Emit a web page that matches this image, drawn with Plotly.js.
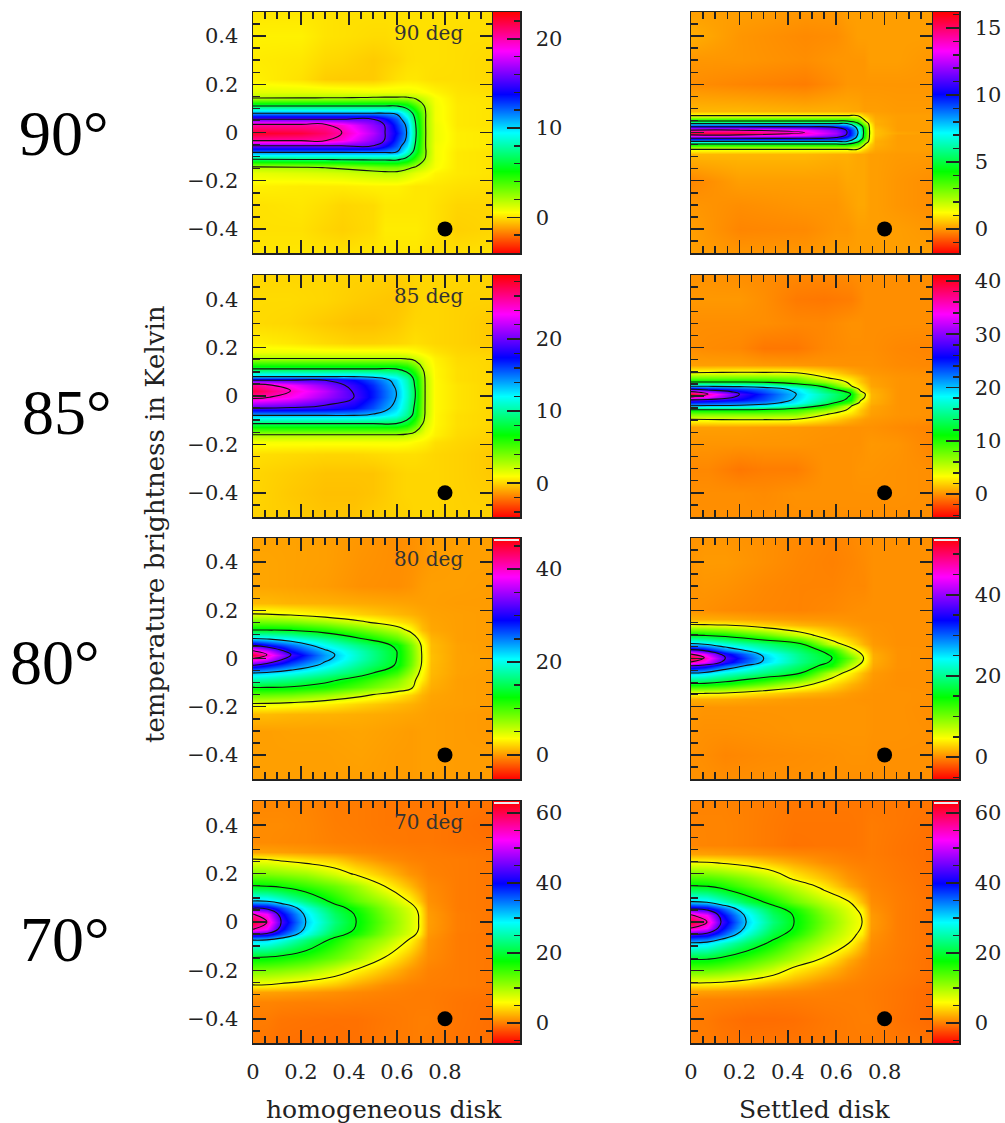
<!DOCTYPE html>
<html><head><meta charset="utf-8">
<script src="https://cdn.plot.ly/plotly-3.0.1.min.js"></script>
<style>html,body{margin:0;padding:0;background:#fff}</style></head>
<body><div id="chart" style="width:1005px;height:1123px"></div>
<script>
// ---------- values ----------
const hom90X=[0,.2,.3,.37,.5,.55,.6,.64,.68,.72,.76,.85,1];
const hom90Y=[.5,.4,.3,.22,.17,.145,.11,.08,.055,.033,0,-.033,-.055,-.08,-.11,-.145,-.17,-.22,-.3,-.4,-.5];
const hom90Z=[
[.15,.15,.1,.05,.05,.05,.05,.05,.05,.05,.05,.05,0],
[.35,.35,.1,.05,-.05,-.05,.05,.05,.05,.05,.05,0,0],
[.25,.15,-.1,-.15,-.35,-.25,-.15,0,.05,.05,.05,0,-.1],
[.35,.05,-.3,-.35,-.35,-.15,.05,.15,.15,.05,0,0,-.1],
[1.1,1.1,1.05,1,.9,.9,.9,.9,.8,.6,.4,.1,0],
[2,2.05,2.1,2.15,2.3,2.35,2.35,2.35,1.9,1.3,.7,.15,.1],
[6.7,6.7,6.7,6.7,6.7,6.7,6.7,5.8,4,1.9,.8,.2,.1],
[11.2,11.2,11.2,11.2,11.2,11.2,10.9,8.6,5.6,2.2,.8,.2,.1],
[15.7,15.7,15.7,15.7,15.7,14,12.3,10,6.2,2.2,.8,.2,.1],
[20.3,20.3,20.3,19.3,16.6,15.6,13,10.9,6.5,2.2,.9,.2,.1],
[22.4,22,21.2,20.16,17.3,15.7,13.6,11.2,6.72,2.24,.9,.3,.2],
[20.3,20.3,20.3,19.3,16.6,15.6,13,10.9,6.5,2.2,.9,.3,.2],
[15.7,15.7,15.7,15.7,15.7,14,12.3,10,6.2,2.2,.8,.3,.2],
[11.6,11.6,11.6,11.6,11.6,11.6,11.2,8.8,5.7,2.3,.8,.2,.1],
[6.9,7,7,7.1,7.2,7.2,7.2,6.2,4.2,2,.8,.2,.1],
[1.9,2.1,2.3,2.5,3,3.2,3.2,2.7,2,1.3,.7,.2,.1],
[1,1.2,1.3,1.4,1.7,1.8,1.8,1.4,1,.7,.4,.2,.1],
[.35,.25,.25,.25,.35,.35,.35,.25,.15,.15,.15,.05,0],
[.05,.15,0,-.15,-.05,.15,.15,.15,.15,.15,.05,-.15,-.15],
[.05,.05,-.15,-.25,-.05,.25,.25,.25,.25,.15,.05,-.25,-.15],
[.15,.15,.1,.05,.15,.15,.15,.15,.15,.05,0,0,.05]];

const set90X=[0,.2,.47,.6,.645,.69,.713,.738,.76,.85,1];
const set90Y=[.5,.4,.3,.2,.09,.07,.048,.037,.024,.01,0,-.01,-.024,-.037,-.048,-.07,-.09,-.2,-.3,-.4,-.5];
const set90Z=[
[.1,.1,0,0,.1,.1,.1,.1,.1,.1,.1],
[.3,0,-.15,-.1,0,.1,.1,.1,.1,.1,.1],
[0,0,-.1,0,0,0,0,.1,.1,.1,0],
[-.1,-.2,-.3,-.1,0,0,0,0,0,0,0],
[.4,.4,.3,.3,.25,.2,.1,.1,.1,.05,.05],
[1.55,1.55,1.55,1.55,1.55,1.5,.8,.4,.2,.1,.1],
[4.65,4.65,4.65,4.65,4.65,3.6,1.9,.7,.3,.1,.1],
[7.75,7.75,7.75,7.75,7.75,5,3,1.2,.3,.1,.1],
[10.85,10.85,10.85,10.6,9.4,7.2,4.2,1.4,.4,.1,.1],
[13.95,13.95,13.2,11.8,10.75,7.6,4.55,1.5,.5,.1,.1],
[15.5,15.4,13.95,12.2,10.85,7.75,4.65,1.55,.5,.2,.1],
[13.95,13.95,13.2,11.8,10.75,7.6,4.55,1.5,.5,.1,.1],
[10.85,10.85,10.85,10.6,9.4,7.2,4.2,1.4,.4,.1,.1],
[7.75,7.75,7.75,7.75,7.75,5,3,1.2,.3,.1,.1],
[4.65,4.65,4.65,4.65,4.65,3.6,1.9,.7,.3,.1,.1],
[1.55,1.55,1.55,1.55,1.55,1.5,.8,.4,.2,.1,.1],
[.4,.4,.4,.3,.3,.2,.2,.1,.1,.05,.05],
[-.2,.1,.1,.1,.2,.2,.2,.1,.1,0,-.1],
[0,-.1,0,0,.1,.2,.2,.1,.1,0,-.1],
[.1,-.2,-.15,0,0,.1,.1,.1,.1,.1,0],
[.1,0,0,.1,.1,.1,.1,.1,.1,.1,.1]];

const hom85X=[0,.156,.3,.42,.5,.596,.64,.676,.717,.76,.85,1];
const hom85Y=[.5,.4,.3,.22,.18,.155,.112,.08,.065,.045,.022,-.005,-.05,-.08,-.114,-.16,-.19,-.24,-.32,-.4,-.5];
const hom85Z=[
[.1,.1,.1,0,0,-.1,0,.1,.1,.1,.1,0],
[.2,.2,.1,-.1,-.2,-.3,-.2,0,.1,.1,0,0],
[.2,.1,-.2,-.4,-.4,-.2,0,.1,.1,.1,0,-.2],
[.7,.5,.2,0,0,.1,.2,.3,.2,.1,0,-.2],
[1.4,1.4,1.3,1.3,1.3,1.3,1.2,1,.7,.4,.1,0],
[2.75,2.75,2.75,2.75,2.75,2.75,2.6,2,1.3,.7,.2,.1],
[8.25,8.25,8.25,8.25,8.25,8.25,7.2,5.3,2,.85,.3,.1],
[13.75,13.75,13.75,13.75,13.3,11.8,9.8,7.4,2.6,.85,.3,.1],
[19.25,19.25,19.25,17.5,15.8,13,10.5,7.8,2.7,.9,.3,.1],
[26,23.5,20.8,18.5,16.6,13.4,10.8,8,2.75,.9,.4,.1],
[27.5,24.75,22,19,17,13.75,11,8.25,2.75,.9,.4,.1],
[25.5,23.8,21.3,19.25,17,13.75,11,8.25,2.75,.9,.4,.1],
[19.25,19,18.5,17.5,15.8,13,10.5,7.8,2.7,.9,.4,.1],
[13.75,13.75,13.75,13.75,13.3,11.8,9.8,7.4,2.6,.85,.3,.1],
[8.25,8.25,8.25,8.25,8.25,8.25,7.2,5.3,2,.85,.3,.1],
[2.75,2.75,2.75,2.75,2.75,2.75,2.5,1.9,1.2,.7,.2,0],
[1.2,1.2,1.2,1.2,1.2,1.2,1.1,.9,.7,.3,.1,-.1],
[.3,.2,.1,.1,.2,.3,.3,.3,.2,.1,0,-.2],
[.1,-.1,-.3,-.3,-.3,0,.1,.1,.1,.1,0,-.2],
[.1,-.2,-.4,-.4,-.3,0,.1,.1,.1,.1,0,-.1],
[0,-.1,-.3,-.3,-.1,0,0,.1,.1,.1,0,0]];

const set85X=[0,.07,.2,.3,.435,.55,.66,.7,.72,.745,.85,1];
const set85Y=[.5,.4,.3,.2,.13,.096,.075,.058,.04,.028,.018,.008,-.004,-.016,-.028,-.04,-.058,-.075,-.096,-.13,-.2,-.3,-.4,-.5];
const set85Z=[
[.1,.1,0,-.1,-.2,-.2,-.1,0,0,0,0,0],
[.3,.3,.3,0,-.6,-.7,-.5,-.2,0,0,0,0],
[0,0,0,0,-.2,-.2,.1,.1,0,0,0,0],
[0,-.1,-.2,-.7,-.7,-.2,0,0,0,0,-.2,-.3],
[.5,.5,.5,.4,.3,.2,.1,.1,.1,.1,-.1,-.2],
[4,4.1,4.2,4.2,4,2.6,1,.6,.4,.3,.1,0],
[8,8,8,8,7.6,4.3,2.4,1.5,1,.5,.2,.1],
[12,12,12,11.5,9.5,7,3.4,1.8,1.2,.6,.2,.1],
[20,20,19.5,18.5,15.5,11.5,4.2,2.7,1.8,.7,.2,.1],
[28,26,24,22.5,19,14,8.6,3.2,2.2,1,.2,.1],
[36,32,26.5,23.5,19.6,15,11.2,4.4,3,1.1,.2,.1],
[40,36,28,24.5,20,16,12,6.2,4,1.2,.2,.1],
[36,33.5,27,24,19.8,15.8,11.6,5.8,3.8,1.2,.2,.1],
[28,27,25.5,23.5,19.4,15.3,11,4.4,3,1.1,.2,.1],
[24,23.5,22.5,21.5,18.5,14.2,8.6,3.2,2.2,1,.2,.1],
[20,19.8,19.5,18.5,15.5,11.5,4.2,2.7,1.8,.7,.2,.1],
[11.5,11.5,11.5,11,9.5,7,3.4,1.8,1.2,.6,.2,.1],
[7.5,7.5,7.5,7.5,7.2,4.3,2.4,1.5,1,.5,.2,.1],
[4,4.1,4.2,4.2,4,2.6,1,.6,.4,.3,.1,0],
[.5,.5,.5,.4,.3,.2,.1,.1,.1,.1,-.1,-.3],
[.2,.2,.2,.2,.2,.1,.1,.1,.2,.3,.2,-.3],
[-.2,-.2,-.7,-.5,-.5,.1,.1,.2,.2,.2,.1,0],
[0,0,0,-.1,.1,.1,.1,.1,.1,.1,.1,0],
[0,0,0,0,0,0,0,0,0,0,0,0]];

const hom80X=[0,.058,.158,.3,.45,.6,.66,.703,.74,.85,1];
const hom80Y=[.5,.4,.3,.23,.185,.15,.118,.083,.055,.032,.016,0,-.028,-.06,-.09,-.12,-.15,-.187,-.23,-.3,-.4,-.5];
const hom80Z=[
[.4,.4,.4,.3,0,-.3,-.2,0,.2,.3,.3],
[.5,.5,.4,.3,-.1,-.3,-.2,0,.2,.3,.3],
[.5,.5,.4,.2,-.2,-.3,-.1,.2,.3,.3,.2],
[1.2,1.2,1,.9,.7,.5,.4,.3,.3,.2,.2],
[4.5,4.4,3.9,3,2,1.2,.9,.6,.4,.3,.2],
[8.8,8.7,8.3,7,5,2.8,2,1,.5,.3,.2],
[13.5,13.5,13.2,11.5,9,6,3.6,1.4,.6,.3,.2],
[22.5,22,20.5,17.5,13.5,9.5,6.5,3.2,1.1,.3,.2],
[31.5,29,25.5,20.5,16.5,12.9,8.4,4.2,1.3,.4,.2],
[40.5,37,29,23,18.2,13.45,8.9,4.4,1.3,.4,.2],
[45,40.5,31.5,24,18.5,13.5,9,4.5,1.4,.4,.3],
[40.5,37.5,29.5,23.5,18.3,13.45,9,4.5,1.4,.4,.3],
[31.5,29.5,26,21.5,17,13.2,8.6,4.3,1.3,.4,.3],
[22.5,22,20.5,18,15,10.5,7,3.6,1.2,.4,.2],
[18,17.5,16.5,14.5,11.5,8,5.5,3,1,.3,.2],
[13.5,13.5,13.2,12,9.5,6.6,5,1.9,.8,.3,.2],
[9,8.9,8.5,7.2,5.2,3,2,1,.5,.3,.2],
[4.5,4.4,4,3.2,2.1,1.2,.9,.6,.4,.3,.2],
[1.3,1.3,1.1,1,.8,.6,.5,.4,.3,.2,.1],
[.3,.3,.4,.4,.5,.3,.2,.3,.3,.2,.1],
[.3,.3,.3,.3,.4,.2,.2,.3,.3,.2,.2],
[.3,.3,.3,.3,.3,.2,.2,.3,.3,.2,.2]];

const set80X=[0,.055,.142,.3,.45,.583,.66,.713,.75,.85,1];
const set80Y=[.5,.4,.3,.2,.165,.141,.097,.062,.037,.018,.003,-.014,-.03,-.06,-.104,-.145,-.17,-.2,-.3,-.4,-.5];
const set80Z=[
[.4,.5,.5,.3,0,-.2,0,.2,.3,.3,.3],
[.5,.7,.7,.3,-.1,-.3,-.1,.1,.3,.3,.3],
[.4,.5,.4,0,-.2,-.2,0,0,.3,.3,.3],
[.4,.3,.1,-.1,-.2,0,.2,.3,.3,.3,.3],
[1.5,1.4,1.3,.9,.6,.5,.4,.3,.3,.3,.3],
[5.3,5.2,4.8,3,1.8,1.2,.7,.5,.4,.3,.3],
[15.9,15.6,14.5,11,6.8,3.2,1.7,.9,.5,.3,.3],
[26.5,25.5,23,19.5,16,6.5,3.6,1.6,.7,.3,.3],
[37.1,35,29,22.5,18.5,13.7,6.2,3.5,1.1,.4,.3],
[47.7,44,35,25.5,19.7,15.3,8.5,4.7,1.4,.4,.3],
[53,47.7,37.1,26.5,20,15.9,10.5,5.3,1.5,.4,.3],
[47.7,44.5,35.5,26,19.8,15.5,9,4.9,1.4,.4,.3],
[37.1,35.5,30,23,18.5,14,7,3.9,1.2,.4,.3],
[26.5,25.8,23,19.5,16.2,7,4,1.8,.7,.3,.3],
[15.9,15.7,14.5,11,7,3.4,1.7,.9,.5,.3,.3],
[5.3,5.2,4.9,3.2,2,1.3,.7,.5,.4,.4,.3],
[1.5,1.5,1.4,1,.7,.6,.5,.4,.4,.4,.3],
[.6,.5,.5,.5,.5,.5,.5,.5,.4,.4,.2],
[.4,.3,.3,.4,.5,.5,.5,.5,.4,.4,.3],
[.3,.2,-.1,.1,.2,.3,.4,.4,.3,.3,.3],
[.3,.3,.2,.3,.3,.4,.3,.3,.3,.3,.3]];

const hom70X=[0,.058,.117,.22,.34,.43,.55,.65,.69,.73,.85,1];
const hom70Y=[.5,.4,.33,.29,.26,.2,.15,.087,.057,.033,0,-.03,-.05,-.075,-.147,-.2,-.26,-.29,-.33,-.4,-.5];
const hom70Z=[
[.5,.5,.5,.4,0,0,-.2,-.2,-.2,-.2,-.2,-.4],
[.7,.7,.7,.5,.1,0,-.2,-.2,-.2,-.2,-.4,-.7],
[.7,.7,.6,.5,.2,.1,-.1,-.2,-.2,-.2,-.4,-.5],
[1.8,1.7,1.6,1.3,.9,.6,.3,.1,0,0,-.2,-.3],
[6.2,6,5.4,4.4,3.4,2,.8,.3,.2,.1,0,-.2],
[12.2,12,11.5,10.5,8,5.6,3.2,1.2,.8,.3,0,-.2],
[18.6,18.2,17.5,15.5,13,10.5,6,3,1.6,.7,0,-.2],
[31,30.5,28,23,17.2,13.5,10,6,3.6,1,0,-.2],
[43.4,42,37,28,20.5,17,11.5,7.8,5.6,1.3,0,-.2],
[55.8,52,41,30,22,18.2,12.2,8.2,6.15,1.5,.1,-.2],
[62,55.8,43.4,31,23,18.6,12.8,8.3,6.2,1.6,.1,-.2],
[55.8,52,41,30,22,18.2,12.2,8.2,6.15,1.5,.1,-.2],
[43.4,42,37,28,20.5,17,11.5,7.8,5.6,1.3,0,-.2],
[31,30.5,28,23,17.2,13.5,10,6,3.6,1,0,-.2],
[18.6,18.2,17.5,15.8,13,10.5,6.1,3,1.6,.7,0,-.2],
[12.4,12.2,11.8,10.7,8.2,5.8,3.3,1.3,.8,.3,0,-.2],
[6.2,6.1,5.6,4.6,3.4,2.1,.8,.3,.2,.1,0,-.2],
[1.8,1.7,1.6,1.3,.9,.6,.3,.1,0,0,-.2,-.3],
[.4,.4,.3,.2,.2,.1,0,0,0,0,-.3,-.5],
[0,0,-.3,-.4,-.5,-.5,-.2,0,.1,.1,-.3,-.6],
[-.1,-.3,-.5,-.6,-.6,-.5,-.1,0,.1,0,-.4,-.6]];

const set70X=[0,.066,.124,.228,.34,.426,.55,.65,.707,.745,.85,1];
const set70Y=[.5,.4,.32,.28,.248,.18,.15,.084,.053,.03,0,-.025,-.05,-.086,-.155,-.19,-.252,-.285,-.32,-.4,-.5];
const set70Z=[
[.3,.3,.3,.2,0,-.2,-.2,-.2,-.2,-.2,-.2,-.3],
[.4,.4,.4,.2,-.1,-.3,-.3,-.3,-.2,0,-.2,-.5],
[.5,.4,.4,.2,-.1,-.4,-.3,-.3,-.2,0,-.3,-.6],
[1.8,1.7,1.6,1.3,.9,.6,.3,0,-.1,0,-.3,-.6],
[6.2,6.1,5.6,4.6,3,2,.8,.3,.1,.1,-.2,-.6],
[14.5,14.2,13.5,11.5,8.8,5.6,3.2,1.2,.6,.3,-.1,-.5],
[18.6,18.2,17,14,11,8.8,5,2,.9,.4,0,-.5],
[31,30,27,21.5,16.8,13,9.2,6.4,3,.8,.1,-.4],
[43.4,42,37,27.5,20.5,17,11,7.6,5.3,1.1,.1,-.4],
[55.8,52,41,30,22,18.3,12,8,6,1.4,.1,-.4],
[62,55.8,43.4,31,23,18.6,12.5,8.3,6.2,1.5,.1,-.4],
[55.8,52,41,30,22,18.3,12,8,6,1.4,.1,-.4],
[43.4,42,37,27.5,20.5,17,11,7.6,5.3,1.1,.1,-.4],
[31,30,27,22.3,17.6,13.6,9.4,6.4,3,.8,.1,-.4],
[18.6,18.4,17.5,15,12,9.6,5.6,2.2,.9,.4,0,-.5],
[14.5,14.3,13.7,11.8,9,5.8,3.4,1.3,.6,.3,0,-.5],
[6.2,6.1,5.8,4.8,3.2,2.2,.9,.4,.2,.1,-.2,-.6],
[1.8,1.7,1.6,1.3,.9,.6,.3,.1,.1,0,-.3,-.8],
[.4,.3,.3,.2,0,0,.1,.1,.1,0,-.3,-.8],
[0,-.1,-.4,-.7,-.7,-.6,-.2,0,.1,.1,-.4,-.8],
[.1,0,-.2,-.4,-.3,-.3,-.1,0,0,0,-.2,-.4]];

const peaks=[22.4,15.5,27.5,40,45,53,62,62];
const barLo=[-4,-1.8,-4.7,-4.3,-5.2,-5.4,-5.7,-5.7];
const barHi=[23,16.2,28.9,41.1,46.7,54,63.4,63.4];
const barDtick=[10,5,10,10,20,20,20,20];
const barMinor=[2,1,2,2,5,5,5,5];
const panelX=[hom90X,set90X,hom85X,set85X,hom80X,set80X,hom70X,set70X];
const panelY=[hom90Y,set90Y,hom85Y,set85Y,hom80Y,set80Y,hom70Y,set70Y];
const panelZ=[hom90Z,set90Z,hom85Z,set85Z,hom80Z,set80Z,hom70Z,set70Z];
const beamX=[.8], beamY=[-.4];
const xTickVals=[0,.2,.4,.6,.8], xTickText=['0','0.2','0.4','0.6','0.8'];
const yTickVals=[-.4,-.2,0,.2,.4], yTickText=['−0.4','−0.2','0','0.2','0.4'];
const angleLabels=['90°','85°','80°','70°'];
const innerLabels=['90 deg','85 deg','80 deg','70 deg'];
const columnTitles=['homogeneous disk','Settled disk'];
const yTitle='temperature brightness in Kelvin';

// ---------- page geometry ----------
const W=1005,H=1123;
const rowTop=[12,275,538,801],rowBot=[253,517,779,1043];
const colL=[253,691],colR=[493,933],barR=[520,959];
const fx=p=>p/W, fy=p=>1-p/H;
const rainbow=[[0,'#ff0000'],[.17,'#ffff00'],[.34,'#00ff00'],[.5,'#00ffff'],[.66,'#0000ff'],[.84,'#ff00ff'],[1,'#ff0000']];
const FONT='DejaVu Serif', INK='#222';

const traces=[],layout={width:W,height:H,margin:{l:0,r:0,t:0,b:0},paper_bgcolor:'#fff',plot_bgcolor:'#fff',
  showlegend:false,annotations:[],shapes:[],font:{family:FONT,color:INK}};
const tickFont={family:FONT,size:21,color:INK};

for(let i=0;i<8;i++){
  const r=Math.floor(i/2),c=i%2,n=i+1,b=i+9;
  const xa='x'+n,ya='y'+n,xb='x'+b,yb='y'+b;
  const ys=panelY[i].slice().reverse(), zs=panelZ[i].slice().reverse();
  traces.push({type:'heatmap',x:panelX[i],y:ys,z:zs,xaxis:xa,yaxis:ya,zsmooth:'best',colorscale:rainbow,zmin:barLo[i],zmax:barHi[i],showscale:false,hoverinfo:'skip'});
  traces.push({type:'contour',x:panelX[i],y:ys,z:zs,xaxis:xa,yaxis:ya,showscale:false,autocontour:false,hoverinfo:'skip',
    contours:{coloring:'none',start:.1*peaks[i],end:.9*peaks[i]+1e-6,size:.2*peaks[i]},line:{color:'#111',width:1.1,smoothing:1.3}});
  traces.push({type:'scatter',mode:'markers',x:beamX,y:beamY,xaxis:xa,yaxis:ya,marker:{color:'#000',size:15},hoverinfo:'skip'});
  traces.push({type:'heatmap',x:[0,1],y:[barLo[i],barHi[i]],z:[[barLo[i],barLo[i]],[barHi[i],barHi[i]]],xaxis:xb,yaxis:yb,zsmooth:'best',colorscale:rainbow,zmin:barLo[i],zmax:barHi[i],showscale:false,hoverinfo:'skip'});

  const frame={showline:true,linecolor:INK,linewidth:1.5,mirror:'ticks',ticks:'inside',tickcolor:INK,tickwidth:1.5,ticklen:13,zeroline:false,showgrid:false,fixedrange:true};
  const minorTicks={ticks:'inside',ticklen:7,tickcolor:INK,tickwidth:1.5,showgrid:false,tick0:0,dtick:.05};
  layout['xaxis'+(n===1?'':n)]=Object.assign({},frame,{domain:[fx(colL[c]),fx(colR[c])],range:[0,1],anchor:'y'+n,tickmode:'array',tickvals:xTickVals,ticktext:xTickText,showticklabels:r===3,tickfont:tickFont,ticklabelstandoff:9,minor:minorTicks});
  layout['yaxis'+n]=Object.assign({},frame,{domain:[fy(rowBot[r]),fy(rowTop[r])],range:[-.5,.5],anchor:'x'+n,tickmode:'array',tickvals:yTickVals,ticktext:yTickText,showticklabels:c===0,tickfont:tickFont,ticklabelstandoff:9,minor:minorTicks});
  layout['xaxis'+b]={domain:[fx(colR[c]),fx(barR[c])],range:[0,1],anchor:'y'+b,showline:true,linecolor:INK,linewidth:1.5,mirror:true,ticks:'',showticklabels:false,showgrid:false,zeroline:false,fixedrange:true};
  layout['yaxis'+b]=Object.assign({},frame,{domain:[fy(rowBot[r]),fy(rowTop[r])],range:[barLo[i],barHi[i]],anchor:'x'+b,side:'right',mirror:true,tick0:0,dtick:barDtick[i],ticklen:13,tickfont:tickFont,ticklabelstandoff:10,
    minor:{ticks:'inside',ticklen:6,tickcolor:INK,tickwidth:1.5,showgrid:false,tick0:0,dtick:barMinor[i]}});
  if(i>=4) layout.shapes.push({type:'rect',xref:'paper',yref:'paper',x0:fx(colR[c]+1),x1:fx(barR[c]-1),y0:fy(rowTop[r]+3),y1:fy(rowTop[r]+1),fillcolor:'#eee',line:{width:0},layer:'above'});
}
const angleLeft=[17,20,8,18], angleMid=[133,412,662,939];
angleLabels.forEach((t,k)=>layout.annotations.push({xref:'paper',yref:'paper',x:fx(angleLeft[k]),y:fy(angleMid[k]),xanchor:'left',yanchor:'middle',showarrow:false,text:t,font:{family:'Liberation Serif',size:64,color:'#000'}}));
innerLabels.forEach((t,k)=>layout.annotations.push({xref:'paper',yref:'paper',x:fx(428),y:fy(rowTop[k]+21),xanchor:'center',yanchor:'middle',showarrow:false,text:t,font:{family:FONT,size:20,color:'#333'}}));
layout.annotations.push({xref:'paper',yref:'paper',x:fx(384),y:fy(1109),xanchor:'center',yanchor:'middle',showarrow:false,text:columnTitles[0],font:{family:FONT,size:25,color:INK}});
layout.annotations.push({xref:'paper',yref:'paper',x:fx(815),y:fy(1109),xanchor:'center',yanchor:'middle',showarrow:false,text:columnTitles[1],font:{family:FONT,size:25,color:INK}});
layout.annotations.push({xref:'paper',yref:'paper',x:fx(155),y:fy(524),xanchor:'center',yanchor:'middle',textangle:-90,showarrow:false,text:yTitle,font:{family:FONT,size:26,color:INK}});
Plotly.newPlot('chart',traces,layout,{displayModeBar:false,staticPlot:true});
</script></body></html>
